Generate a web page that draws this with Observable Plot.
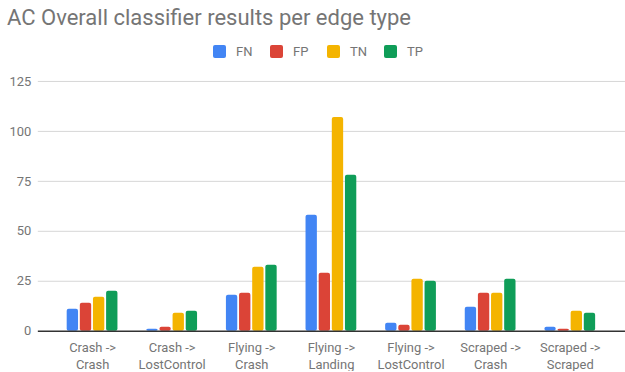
<!DOCTYPE html>
<html>
<head>
<meta charset="utf-8">
<script src="https://cdn.jsdelivr.net/npm/d3@7"></script>
<script src="https://cdn.jsdelivr.net/npm/@observablehq/plot@0.6"></script>
<style>
  html, body { margin: 0; padding: 0; background: #fff; overflow: hidden; }
  #wrap { position: relative; width: 625px; height: 372px; font-family: Roboto, sans-serif; }
  #title { position: absolute; left: 7px; top: 7px; font-size: 22px; line-height: 22px; color: #757575; white-space: nowrap; }
  #legend { position: absolute; left: 213px; top: 45px; display: flex; font-size: 13px; line-height: 13px; color: #757575; }
  .item { display: flex; align-items: center; gap: 10px; width: 57px; }
  .sw { width: 13px; height: 13px; border-radius: 2px; }
  #chart { position: absolute; left: 0; top: 70px; }
</style>
</head>
<body>
<div id="wrap">
  <div id="title">AC Overall classifier results per edge type</div>
  <div id="legend"></div>
  <div id="chart"></div>
</div>
<script>
// Edge types and the four classifier outcome counts per edge type
const edges = ["Crash -> Crash", "Crash -> LostControl", "Flying -> Crash", "Flying -> Landing",
               "Flying -> LostControl", "Scraped -> Crash", "Scraped -> Scraped"];
const series = ["FN", "FP", "TN", "TP"];
const fn = [11, 1, 18, 58, 4, 12, 2];
const fp = [14, 2, 19, 29, 3, 19, 1];
const tn = [17, 9, 32, 107, 26, 19, 10];
const tp = [20, 10, 33, 78, 25, 26, 9];
const yTicks = [0, 25, 50, 75, 100, 125];
const colors = ["#4285F4", "#DB4437", "#F4B400", "#0F9D58"];

const values = [fn, fp, tn, tp];
const rows = series.flatMap((s, i) => edges.map((e, j) => ({edge: e, series: s, value: values[i][j]})));

// Legend
const legend = document.getElementById("legend");
series.forEach((s, i) => {
  const item = document.createElement("div");
  item.className = "item";
  const sw = document.createElement("div");
  sw.className = "sw";
  sw.style.background = colors[i];
  const label = document.createElement("span");
  label.textContent = s;
  item.append(sw, label);
  legend.append(item);
});

// Bars within each edge-type band: width and spacing
const barW = 12, pitch = 13.2, groupW = pitch * (series.length - 1) + barW;

const chart = Plot.plot({
  width: 628,
  height: 302,
  marginLeft: 38,
  marginRight: 0,
  marginTop: 11,
  marginBottom: 40,
  style: {fontFamily: "Roboto, sans-serif", fontSize: "13px", color: "#757575", background: "#fff"},
  x: {domain: edges, paddingInner: 0.358, paddingOuter: 0.351, label: null},
  y: {domain: [0, 125], ticks: yTicks, label: null},
  color: {domain: series, range: colors},
  marks: [
    Plot.ruleY(yTicks.filter(d => d > 0), {stroke: "#d6d6d6", strokeWidth: 1}),
    ...series.map((s, i) => Plot.barY(rows.filter(r => r.series === s), {
      x: "edge", y: "value", fill: "series", rx: 2,
      insetLeft: i * pitch, insetRight: groupW - i * pitch - barW
    })),
    Plot.ruleY([0], {stroke: "#333333", strokeWidth: 1.5}),
    Plot.axisY({ticks: yTicks, tickSize: 0, tickPadding: 7, label: null}),
    Plot.axisX({tickSize: 0, tickPadding: 9, lineHeight: 1.28, label: null,
                tickFormat: d => d.replace(" -> ", " ->\n")})
  ]
});
document.getElementById("chart").append(chart);
</script>
</body>
</html>
